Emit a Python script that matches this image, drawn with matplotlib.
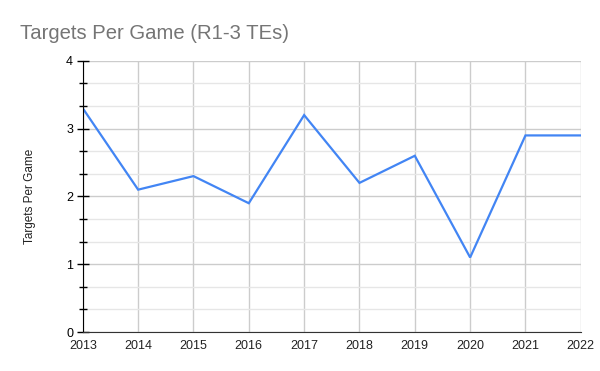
import matplotlib
matplotlib.use('Agg')
import matplotlib.pyplot as plt
from matplotlib.ticker import MultipleLocator

years = [2013, 2014, 2015, 2016, 2017, 2018, 2019, 2020, 2021, 2022]
targets = [3.3, 2.1, 2.3, 1.9, 3.2, 2.2, 2.6, 1.1, 2.9, 2.9]

plt.rcParams['font.family'] = ['Liberation Sans', 'DejaVu Sans']

fig = plt.figure(figsize=(6, 3.71), dpi=100)
ax = fig.add_axes([0.138, 0.105, 0.83, 0.731])

ax.plot(years, targets, color='#4285F4', linewidth=1.6, solid_joinstyle='miter')

ax.set_xlim(2013, 2022)
ax.set_ylim(0, 4)
ax.set_xticks(years)
ax.yaxis.set_major_locator(MultipleLocator(1))
ax.yaxis.set_minor_locator(MultipleLocator(1 / 3))

ax.grid(which='major', color='#cccccc', linewidth=1)
ax.grid(which='minor', axis='y', color='#e6e6e6', linewidth=1)
ax.set_axisbelow(True)

for side in ['top', 'right']:
    ax.spines[side].set_visible(False)
ax.spines['left'].set_color('#000000')
ax.spines['bottom'].set_color('#333333')

ax.tick_params(axis='y', which='both', direction='inout', length=8, width=1,
               color='#000000', labelsize=9, pad=3)
ax.tick_params(axis='y', which='minor', length=6)
ax.tick_params(axis='x', length=0, labelsize=9, pad=6, labelcolor='#222222')

ax.set_ylabel('Targets Per Game', fontsize=8.5, color='#222222', labelpad=22)

fig.text(0.033, 0.91, 'Targets Per Game (R1-3 TEs)', fontsize=14.6,
         color='#757575', ha='left', va='center')

fig.savefig('out.png', dpi=100)
